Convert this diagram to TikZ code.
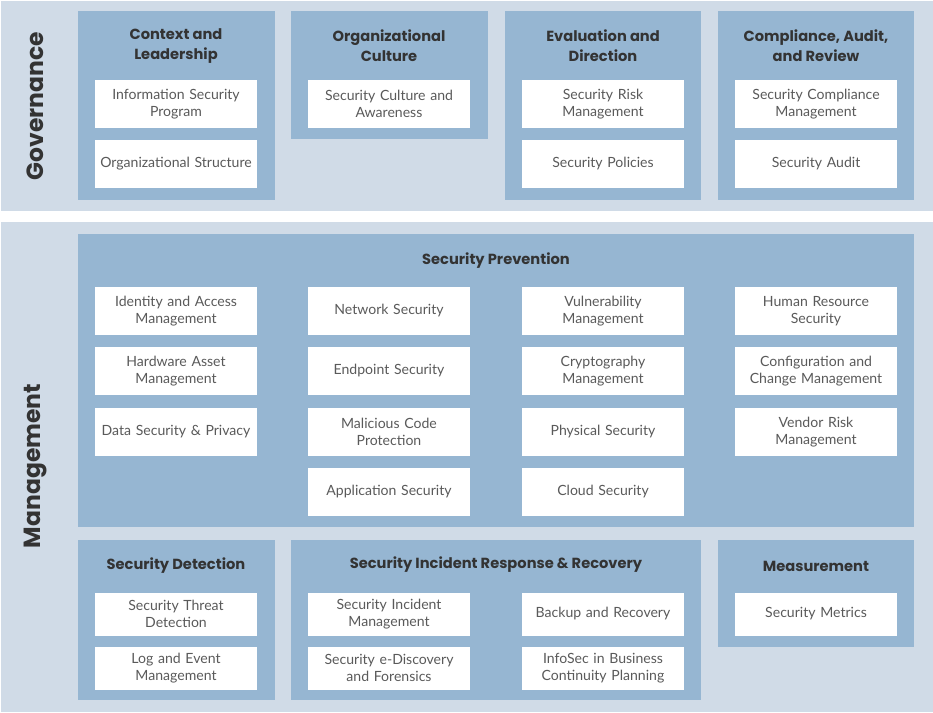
\documentclass[tikz,border=0pt]{standalone}
\usepackage{fontspec}
\setmainfont{Lato}
\newfontfamily\headfont{Poppins}
\definecolor{bandblue}{HTML}{D0DBE7}
\definecolor{panelblue}{HTML}{96B6D2}
\definecolor{headtext}{HTML}{333333}
\definecolor{boxtext}{HTML}{5A5A5A}
\usetikzlibrary{positioning}
\begin{document}
\begin{tikzpicture}[x=0.03cm, y=-0.03cm,
  band/.style={fill=bandblue, draw=none},
  panel/.style={fill=panelblue, draw=none},
  wbox/.style={fill=white, draw=none, minimum width=4.86cm, minimum height=1.44cm,
    text width=4.7cm, align=center, inner sep=0pt, font=\fontsize{12}{15}\selectfont, text=boxtext},
  sbox/.style={wbox, minimum height=1.29cm},
  ptitle/.style={font=\headfont\bfseries\fontsize{12.5}{17}\selectfont, text=headtext, align=center},
  side/.style={font=\headfont\bfseries\fontsize{20}{24}\selectfont, text=headtext, rotate=90}]
  \useasboundingbox (0,0) rectangle (933,713);
  % bands
  \fill[band] (1,1) rectangle (933,211);
  \fill[band] (1,222) rectangle (933,712);
  \node[side] (gov) at (35,106) {Governance};
  \node[side] (mgmt) at (35,466) {Management};

  % Governance panels
  \fill[panel] (78,11) rectangle (275,200);
  \fill[panel] (291,11) rectangle (488,139);
  \fill[panel] (505,11) rectangle (701,200);
  \fill[panel] (718,11) rectangle (914,200);
  \node[ptitle] (t1) at (176,46) {Context and\\Leadership};
  \node[ptitle] (t2) at (389,46) {Organizational\\Culture};
  \node[ptitle] (t3) at (603,46) {Evaluation and\\Direction};
  \node[ptitle] (t4) at (816,46) {Compliance, Audit,\\and Review};
  \node[wbox] (isp) at (176,104) {Information Security\\Program};
  \node[wbox] (org) at (176,164) {Organizational Structure};
  \node[wbox] (cult) at (389,104) {Security Culture and\\Awareness};
  \node[wbox] (risk) at (603,104) {Security Risk\\Management};
  \node[wbox] (pol) at (603,164) {Security Policies};
  \node[wbox] (comp) at (816,104) {Security Compliance\\Management};
  \node[wbox] (audit) at (816,164) {Security Audit};

  % Security Prevention
  \fill[panel] (78,234) rectangle (914,527);
  \node[ptitle] (prev) at (496,261) {Security Prevention};
  \node[wbox] (iam) at (176,311) {Identity and Access\\Management};
  \node[wbox] (hw) at (176,371) {Hardware Asset\\Management};
  \node[wbox] (data) at (176,432) {Data Security \& Privacy};
  \node[wbox] (net) at (389,311) {Network Security};
  \node[wbox] (end) at (389,371) {Endpoint Security};
  \node[wbox] (mal) at (389,432) {Malicious Code\\Protection};
  \node[wbox] (app) at (389,492) {Application Security};
  \node[wbox] (vuln) at (603,311) {Vulnerability\\Management};
  \node[wbox] (crypt) at (603,371) {Cryptography\\Management};
  \node[wbox] (phys) at (603,432) {Physical Security};
  \node[wbox] (cloud) at (603,492) {Cloud Security};
  \node[wbox] (hr) at (816,311) {Human Resource\\Security};
  \node[wbox] (conf) at (816,371) {Configuration and\\Change Management};
  \node[wbox] (vend) at (816,432) {Vendor Risk\\Management};

  % Detection, response, measurement
  \fill[panel] (78,540) rectangle (275,700);
  \fill[panel] (291,540) rectangle (701,700);
  \fill[panel] (718,540) rectangle (914,647);
  \node[ptitle] (det) at (176,566) {Security Detection};
  \node[ptitle] (resp) at (496,565) {Security Incident Response \& Recovery};
  \node[ptitle] (meas) at (816,566) {Measurement};
  \node[sbox] (threat) at (176,614) {Security Threat\\Detection};
  \node[sbox] (log) at (176,668) {Log and Event\\Management};
  \node[sbox] (inc) at (389,614) {Security Incident\\Management};
  \node[sbox] (edisc) at (389,668) {Security e-Discovery\\and Forensics};
  \node[sbox] (back) at (603,614) {Backup and Recovery};
  \node[sbox] (bcp) at (603,668) {InfoSec in Business\\Continuity Planning};
  \node[sbox] (metric) at (816,614) {Security Metrics};
\end{tikzpicture}
\end{document}
